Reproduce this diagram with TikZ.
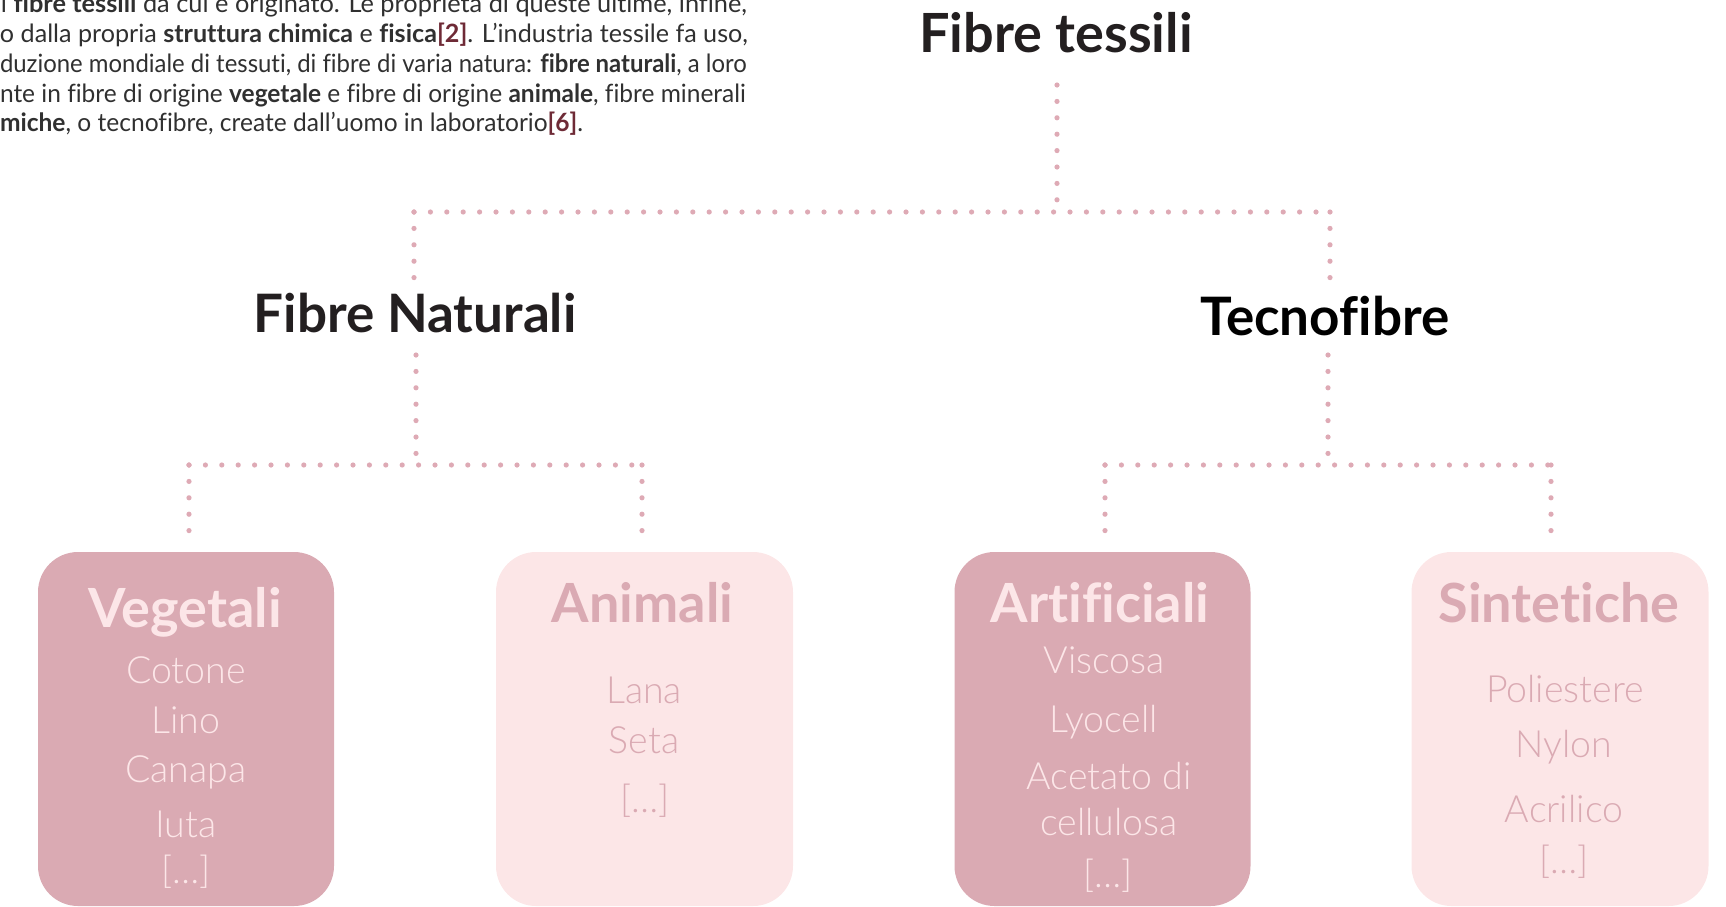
\documentclass[tikz,border=0pt]{standalone}
\usepackage{fontspec}
\usepackage{graphicx}
\setmainfont{Lato}[Ligatures=NoCommon]
\IfFontExistsTF{Lato Light}{\newfontfamily\lightfont{Lato Light}[Ligatures=NoCommon]}{\newfontfamily\lightfont{Lato}[Ligatures=NoCommon]}
\definecolor{dotc}{HTML}{DEAAB5}
\definecolor{boxdark}{HTML}{DAAAB3}
\definecolor{boxlight}{HTML}{FCE6E7}
\definecolor{txtlight}{HTML}{FCE6E8}
\definecolor{txtdark}{HTML}{DAAAB3}
\definecolor{ink}{HTML}{231F20}
\definecolor{para}{HTML}{303030}
\definecolor{cite}{HTML}{6E2A36}
\begin{document}
\begin{tikzpicture}[x=1pt,y=-1pt,
  every node/.style={inner sep=0pt, outer sep=0pt},
  head/.style={font=\fontsize{54}{60}\selectfont\bfseries, text=ink, anchor=base},
  subhead/.style={font=\fontsize{53}{60}\selectfont\bfseries, anchor=base},
  boxdk/.style={fill=boxdark, rounded corners=40pt, minimum width=296pt, minimum height=354pt},
  boxlt/.style={fill=boxlight, rounded corners=40pt, minimum width=297pt, minimum height=354pt},
  btitle/.style={font=\fontsize{54}{60}\selectfont\bfseries, anchor=base},
  item/.style={font=\lightfont\fontsize{37.5}{40}\selectfont, anchor=base},
  pline/.style={font=\fontsize{25.2}{29}\selectfont, text=para, anchor=base west},
  dotline/.style={draw=dotc, line width=5.2pt, line cap=round, dash pattern=on 0pt off 16.4pt}
]
\useasboundingbox (0,0) rectangle (1726,906);
\clip (0,0) rectangle (1726,906);

% paragraph (cropped)
\node[pline] (p1) at (1,12) {\resizebox{746pt}{\height}{i \textbf{fibre tessili} da cui è originato. Le proprietà di queste ultime, infine,}};
\node[pline] (p2) at (0,42) {\resizebox{748pt}{\height}{o dalla propria \textbf{struttura chimica} e \textbf{fisica}\textbf{\color{cite}[2]}. L’industria tessile fa uso,}};
\node[pline] (p3) at (0,72) {\resizebox{747pt}{\height}{duzione mondiale di tessuti, di fibre di varia natura: \textbf{fibre naturali}, a loro}};
\node[pline] (p4) at (0,102) {\resizebox{746pt}{\height}{nte in fibre di origine \textbf{vegetale} e fibre di origine \textbf{animale}, fibre minerali}};
\node[pline] (p5) at (0,131) {\resizebox{583pt}{\height}{\textbf{miche}, o tecnofibre, create dall’uomo in laboratorio\textbf{\color{cite}[6]}.}};

% headings
\node[head] (root) at (1056,52) {Fibre tessili};
\node[subhead, text=ink] (nat) at (415,332) {Fibre Naturali};
\node[subhead, text=black] (tec) at (1325,335) {Tecnofibre};

% boxes
\node[boxdk] (veg) at (186,729) {};
\node[boxlt] (ani) at (644.5,729) {};
\node[boxdk] (art) at (1102.5,729) {};
\node[boxlt] (sin) at (1560,729) {};

% box titles
\node[btitle, text=txtlight] (vegt) at (185,627) {Vegetali};
\node[btitle, text=txtdark] (anit) at (642.5,622) {Animali};
\node[btitle, text=txtlight] (artt) at (1100,622) {Artificiali};
\node[btitle, text=txtdark] (sint) at (1559,622) {Sintetiche};

% items
\begin{scope}[every node/.append style={item, text=txtlight}]
\node (v1) at (186,683) {Cotone};
\node (v2) at (186,733) {Lino};
\node (v3) at (186,782) {Canapa};
\node (v4) at (186,837) {Iuta};
\node (v5) at (186,883) {[…]};
\node (a1) at (1104,673) {Viscosa};
\node (a2) at (1104,732) {Lyocell};
\node (a3) at (1109,789) {Acetato di};
\node (a4) at (1109,835) {cellulosa};
\node (a5) at (1108,887) {[…]};
\end{scope}
\begin{scope}[every node/.append style={item, text=txtdark}]
\node (n1) at (644,703) {Lana};
\node (n2) at (644,753) {Seta};
\node (n3) at (645,812) {[…]};
\node (s1) at (1565,702) {Poliestere};
\node (s2) at (1564,757) {Nylon};
\node (s3) at (1564,822) {Acrilico};
\node (s4) at (1564,873) {[…]};
\end{scope}

% connector points
\coordinate (r0) at (1057,85);
\coordinate (r1) at (1057,212);
\coordinate (hL) at (414,212);
\coordinate (hR) at (1330,212);
\coordinate (natT) at (414,279);
\coordinate (tecT) at (1330,289);
\coordinate (natB) at (416,355);
\coordinate (natJ) at (416,465);
\coordinate (nl) at (189,465);
\coordinate (nr) at (642,465);
\coordinate (vegT) at (189,541);
\coordinate (aniT) at (642,541);
\coordinate (tecB) at (1328,355);
\coordinate (tecJ) at (1328,465);
\coordinate (tl) at (1105,465);
\coordinate (tr) at (1551,465);
\coordinate (artT) at (1105,541);
\coordinate (sinT) at (1551,541);

% connectors
\draw[dotline] (r0) -- (r1);
\draw[dotline] (hL) -- (hR);
\draw[dotline] (hL) -- (natT);
\draw[dotline] (hR) -- (tecT);
\draw[dotline] (natB) -- (natJ);
\draw[dotline] (nl) -- (nr);
\draw[dotline] (nl) -- (vegT);
\draw[dotline] (nr) -- (aniT);
\draw[dotline] (tecB) -- (tecJ);
\draw[dotline] (tl) -- (tr);
\draw[dotline] (tl) -- (artT);
\draw[dotline] (tr) -- (sinT);
\end{tikzpicture}
\end{document}
